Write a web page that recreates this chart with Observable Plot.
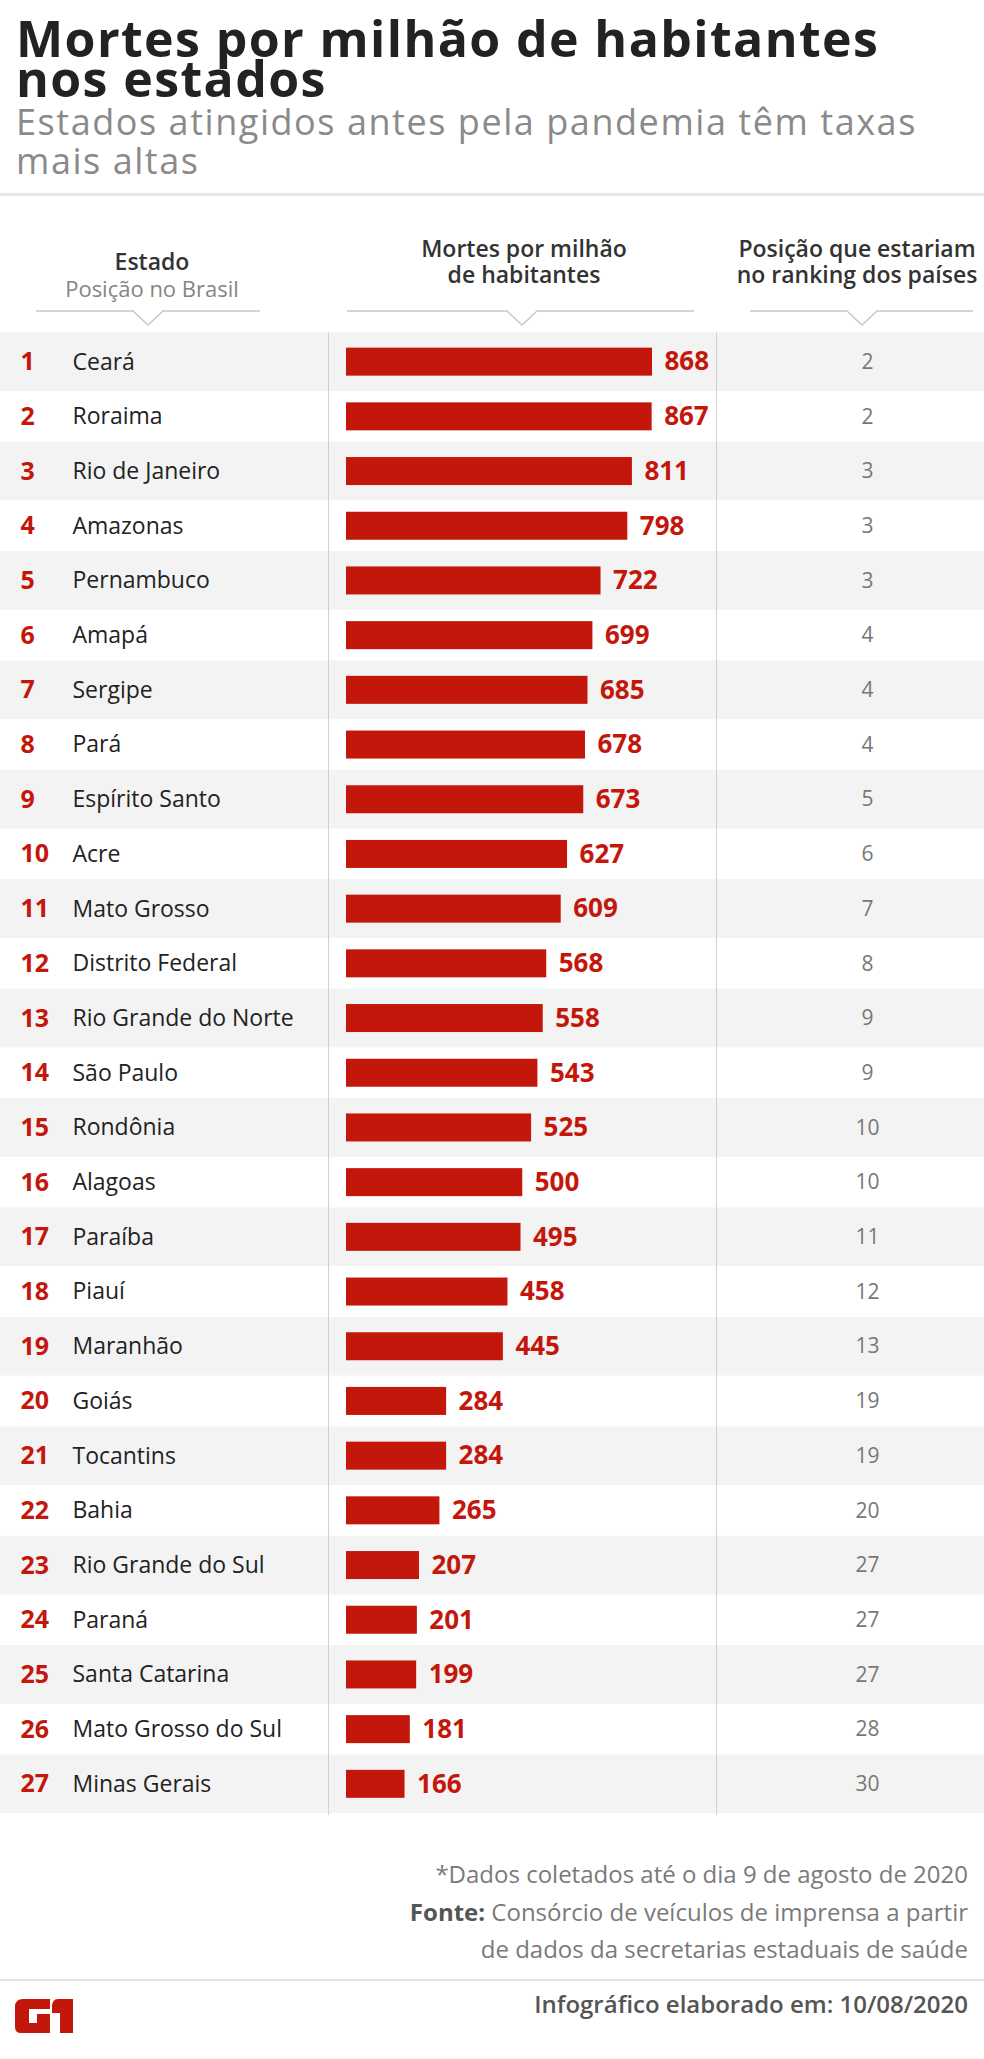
<!DOCTYPE html>
<html lang="pt-BR">
<head>
<meta charset="utf-8">
<script src="https://cdn.jsdelivr.net/npm/d3@7"></script>
<script src="https://cdn.jsdelivr.net/npm/@observablehq/plot@0.6"></script>
<style>
  html, body { margin: 0; padding: 0; background: #fff; }
  #page { position: relative; width: 984px; height: 2059px; font-family: "Open Sans", sans-serif; overflow: hidden; background: #fff; }
  .abs { position: absolute; white-space: nowrap; }
  #title { left: 16px; top: 17.6px; font-size: 50px; line-height: 40px; font-weight: 700; color: #222; letter-spacing: 1.4px; }
  #subtitle { left: 16px; top: 102.2px; font-size: 36px; line-height: 39px; font-weight: 400; color: #8a8a8a; letter-spacing: 1.55px; }
  #sep1 { left: 0; top: 193px; width: 984px; height: 3px; background: #e6e6e6; }
  .hdr { font-size: 23px; line-height: 26px; font-weight: 600; color: #333; text-align: center; transform: translateX(-50%); }
  .hdr .sub { font-weight: 400; color: #858585; font-size: 22px; }
  .vline { position: absolute; width: 1px; background: #d0d0d0; top: 332px; height: 1483px; }
  #notes { right: 16px; top: 1855px; font-size: 24px; line-height: 37.5px; color: #7a7a7a; text-align: right; }
  #notes b { color: #555; font-weight: 700; }
  #sep2 { left: 0; top: 1979px; width: 984px; height: 2px; background: #e2e2e2; }
  #made { right: 16px; top: 1988.7px; font-size: 24px; line-height: 30px; font-weight: 600; color: #555; text-align: right; }
</style>
</head>
<body>
<div id="page">
  <div id="title" class="abs">Mortes por milhão de habitantes<br>nos estados</div>
  <div id="subtitle" class="abs">Estados atingidos antes pela pandemia têm taxas<br>mais altas</div>
  <div id="sep1" class="abs"></div>

  <div class="abs hdr" style="left:152px; top:247.6px; line-height:27px;">Estado<br><span class="sub">Posição no Brasil</span></div>
  <div class="abs hdr" style="left:524px; top:235px;">Mortes por milhão<br>de habitantes</div>
  <div class="abs hdr" style="left:857px; top:235px;">Posição que estariam<br>no ranking dos países</div>

  <svg class="abs" style="left:0; top:300px;" width="984" height="30">
    <g fill="none" stroke="#c8c8c8" stroke-width="1.5">
      <polyline points="36,11 133,11 148,25 163,11 260,11"></polyline>
      <polyline points="347,11 507,11 522,25 537,11 694,11"></polyline>
      <polyline points="750,11 847,11 862,25 877,11 973,11"></polyline>
    </g>
  </svg>

  <div id="chart" class="abs" style="left:0; top:330px;"></div>
  <div class="vline" style="left:328px;"></div>
  <div class="vline" style="left:716px;"></div>

  <div id="notes" class="abs">*Dados coletados até o dia 9 de agosto de 2020<br><b>Fonte:</b> Consórcio de veículos de imprensa a partir<br>de dados da secretarias estaduais de saúde</div>
  <div id="sep2" class="abs"></div>
  <svg class="abs" style="left:15px; top:1999px;" width="60" height="36" aria-label="G1">
    <g fill="#c4170c">
      <path d="M8,0 H35 V10 H14 V24 H22 V15 H35 V34 H6 Q0,34 0,28 V8 Q0,0 8,0 Z"></path>
      <path d="M43,0 H58 V34 H45 V14 H37 V8 Q37,0 43,0 Z"></path>
    </g>
  </svg>
  <div id="made" class="abs">Infográfico elaborado em: 10/08/2020</div>
</div>

<script>
// ---- data ----
const ranks = [1,2,3,4,5,6,7,8,9,10,11,12,13,14,15,16,17,18,19,20,21,22,23,24,25,26,27];
const states = ["Ceará","Roraima","Rio de Janeiro","Amazonas","Pernambuco","Amapá","Sergipe","Pará","Espírito Santo","Acre","Mato Grosso","Distrito Federal","Rio Grande do Norte","São Paulo","Rondônia","Alagoas","Paraíba","Piauí","Maranhão","Goiás","Tocantins","Bahia","Rio Grande do Sul","Paraná","Santa Catarina","Mato Grosso do Sul","Minas Gerais"];
const deathsPerMillion = [868,867,811,798,722,699,685,678,673,627,609,568,558,543,525,500,495,458,445,284,284,265,207,201,199,181,166];
const countryRanking = [2,2,3,3,3,4,4,4,5,6,7,8,9,9,10,10,11,12,13,19,19,20,27,27,27,28,30];

const rows = states.map((s, i) => ({rank: ranks[i], state: s, value: deathsPerMillion[i], country: countryRanking[i]}));

const RED = "#c4170c";
const rowStep = 54.7;
const mTop = 4.3, mBottom = 4;
const H = mTop + mBottom + rowStep * rows.length;
const barInset = (rowStep - 28) / 2;

const chart = Plot.plot({
  width: 984,
  height: H,
  marginTop: mTop,
  marginBottom: mBottom,
  marginLeft: 0,
  marginRight: 0,
  style: {fontFamily: "Open Sans", background: "transparent", overflow: "visible"},
  x: {domain: [0, 868], range: [346, 652], axis: null},
  y: {domain: states, padding: 0, round: false, axis: null},
  marks: [
    Plot.cell(rows.filter(d => d.rank % 2 === 1), {y: "state", fill: "#f3f3f3", insetTop: -2, insetBottom: -2}),
    Plot.barX(rows, {x: "value", y: "state", fill: RED, insetTop: barInset, insetBottom: barInset}),
    Plot.text(rows, {y: "state", text: d => String(d.rank), frameAnchor: "left", textAnchor: "start", dx: 20, fill: RED, fontWeight: 700, fontSize: 25}),
    Plot.text(rows, {y: "state", text: "state", frameAnchor: "left", textAnchor: "start", dx: 72, fill: "#222", fontSize: 23}),
    Plot.text(rows, {x: "value", y: "state", text: d => String(d.value), textAnchor: "start", dx: 12, fill: RED, fontWeight: 700, fontSize: 26}),
    Plot.text(rows, {y: "state", text: d => String(d.country), frameAnchor: "left", textAnchor: "middle", dx: 867, fill: "#777", fontSize: 21})
  ]
});
document.getElementById("chart").appendChild(chart);
</script>
</body>
</html>
